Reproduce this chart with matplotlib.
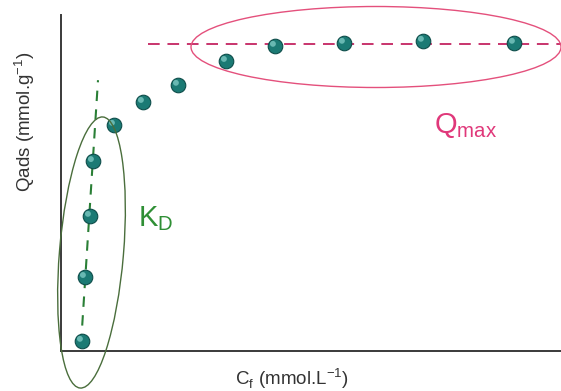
import matplotlib
matplotlib.use("Agg")
import matplotlib.pyplot as plt
from matplotlib.patches import Ellipse
from matplotlib import transforms

plt.rcParams['font.family'] = ['Liberation Sans', 'DejaVu Sans']
plt.rcParams['mathtext.fontset'] = 'custom'
plt.rcParams['mathtext.rm'] = 'Liberation Sans'
plt.rcParams['axes.unicode_minus'] = False

# isotherm points (arbitrary units, no ticks on the original)
cf = [4.2, 4.8, 5.8, 6.4, 10.6, 16.4, 23.4, 33.0, 42.8, 56.6, 72.4, 90.6]
qads = [3.0, 22.0, 40.2, 56.5, 67.3, 74.1, 79.2, 86.3, 90.8, 91.7, 92.3, 91.7]

# guide lines
kd_x = [4.0, 7.4]
kd_y = [2.0, 80.6]
qmax_x = [17.4, 100.0]
qmax_y = [91.4, 91.4]

fig = plt.figure(figsize=(5.61, 3.91), dpi=100)
ax = fig.add_axes([61/561, 40/391, 500/561, 336/391])
ax.set_xlim(0, 100)
ax.set_ylim(0, 100)
for s in ['top', 'right']:
    ax.spines[s].set_visible(False)
for s in ['left', 'bottom']:
    ax.spines[s].set_color('#3a3a3a')
    ax.spines[s].set_linewidth(1.4)
ax.set_xticks([])
ax.set_yticks([])

ax.plot(kd_x, kd_y, color='#2a7f36', lw=1.5, dashes=(5, 4), zorder=2)
ax.plot(qmax_x, qmax_y, color='#c8346c', lw=1.4, dashes=(6, 4), zorder=2, clip_on=False)

ax.scatter(cf, qads, s=110, color='#1b7a74', edgecolors='#0e4d4a', linewidths=0.8, zorder=3)
hl = transforms.offset_copy(ax.transData, fig=fig, x=-1.5, y=1.5, units='points')
ax.scatter(cf, qads, s=18, color='#7cc8c2', edgecolors='none', alpha=0.8, transform=hl, zorder=4)

# overlay in pixel coordinates for annotations
ov = fig.add_axes([0, 0, 1, 1])
ov.set_xlim(0, 561)
ov.set_ylim(391, 0)
ov.axis('off')
ov.patch.set_alpha(0)

ov.add_patch(Ellipse((91.5, 252.5), 64, 272, angle=4.8, fill=False,
                     edgecolor='#4a6e3c', lw=1.0))
ov.add_patch(Ellipse((376, 47), 370, 81, fill=False,
                     edgecolor='#e4507c', lw=1.0))

ov.text(138, 226, r'K$_\mathregular{D}$', color='#2f8f35', fontsize=21,
        ha='left', va='baseline')
ov.text(434, 133, r'Q$_\mathregular{max}$', color='#e0387a', fontsize=21,
        ha='left', va='baseline')

ov.text(25, 122, r'Qads (mmol.g$^\mathregular{-1}$)', rotation=90, fontsize=13.5,
        color='#333333', ha='center', va='center')
ov.text(292, 379, r'C$_\mathregular{f}$ (mmol.L$^\mathregular{-1}$)', fontsize=13.5,
        color='#333333', ha='center', va='center')

fig.savefig('out.png', dpi=100)
